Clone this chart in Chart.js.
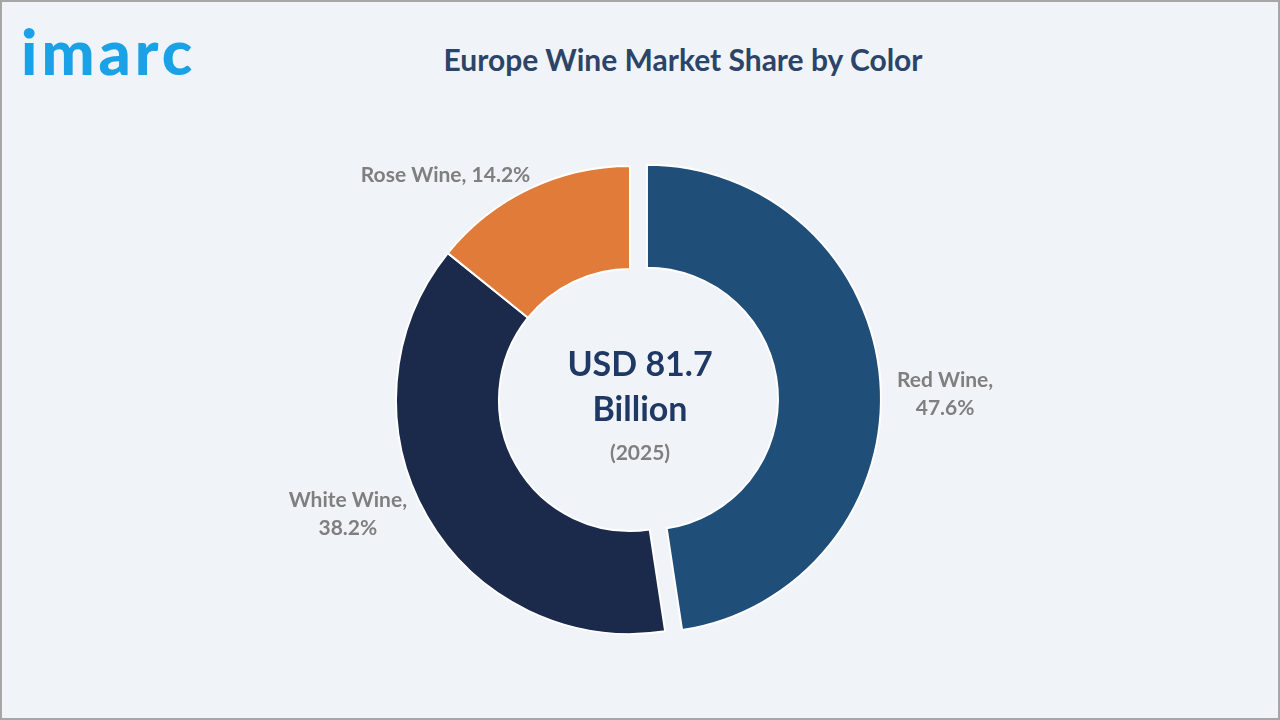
<!DOCTYPE html>
<html>
<head>
<meta charset="utf-8">
<script src="https://cdn.jsdelivr.net/npm/chart.js@4.4.1/dist/chart.umd.min.js"></script>
<style>
  html, body { margin: 0; padding: 0; }
  body { width: 1280px; height: 720px; overflow: hidden; }
  #frame {
    position: relative; width: 1280px; height: 720px; box-sizing: border-box;
    background: #f0f4f9; border: 2px solid #a6a6a6;
  }
  #logo {
    position: absolute; left: 19px; top: 11px;
    font-family: 'Lato', sans-serif; font-weight: 900; font-size: 63px;
    color: #1ba1e6; letter-spacing: 4px;
  }
  #title {
    position: absolute; left: 381px; top: 39px; width: 600px; text-align: center;
    font-family: 'Lato', sans-serif; font-weight: 700; font-size: 30px; color: #2c4468;
  }
  #chartWrap { position: absolute; left: -2px; top: -2px; width: 1280px; height: 720px; }
</style>
</head>
<body>
<div id="frame">
  <div id="logo">imarc</div>
  <div id="title">Europe Wine Market Share by Color</div>
  <div id="chartWrap"><canvas id="chart" width="1280" height="720"></canvas></div>
</div>
<script>
const categories = ['Red Wine', 'White Wine', 'Rose Wine'];
const shares = [47.6, 38.2, 14.2];
const sliceColors = ['#1f4e79', '#1b2a4b', '#e07b39'];
const centerLines = ['USD 81.7', 'Billion', '(2025)'];

// how far each slice is pulled out of the ring, in px
const explode = [17, 0, 0];
// label nudges from the mid-angle anchor (styling only)
const labelNudge = [[-1, 18], [-22, -35], [-55, 46]];
const labelLines = [
  ['Red Wine,', '47.6%'],
  ['White Wine,', '38.2%'],
  ['Rose Wine, 14.2%']
];

// Chart.js' own offset also grows the slice radius, so shift the arc by hand
const explodeSlices = {
  id: 'explodeSlices',
  beforeDatasetsDraw(chart) {
    const meta = chart.getDatasetMeta(0);
    meta.data.forEach((arc, i) => {
      if (!explode[i] || arc._exploded) return;
      const orig = arc.draw;
      arc.draw = function (ctx) {
        const h = (this.startAngle + this.endAngle) / 2;
        ctx.save();
        ctx.translate(Math.cos(h) * explode[i], Math.sin(h) * explode[i]);
        orig.call(this, ctx);
        ctx.restore();
      };
      arc._exploded = true;
    });
  }
};

const outsideLabels = {
  id: 'outsideLabels',
  afterDatasetsDraw(chart) {
    const ctx = chart.ctx;
    const meta = chart.getDatasetMeta(0);
    ctx.save();
    ctx.font = 'bold 21px Lato, sans-serif';
    ctx.fillStyle = '#7f7f7f';
    ctx.textAlign = 'center';
    ctx.textBaseline = 'middle';
    meta.data.forEach((arc, i) => {
      const p = arc.getProps(['x', 'y', 'startAngle', 'endAngle', 'outerRadius'], true);
      const mid = (p.startAngle + p.endAngle) / 2;
      const r = p.outerRadius + 66 + explode[i];
      const x = p.x + Math.cos(mid) * r + labelNudge[i][0];
      const y = p.y + Math.sin(mid) * r + labelNudge[i][1];
      const lines = labelLines[i];
      const lh = 28;
      lines.forEach((t, k) => {
        ctx.fillText(t, x, y + (k - (lines.length - 1) / 2) * lh);
      });
    });

    // center text
    const cx = meta.data[1].x;
    const cy = meta.data[1].y;
    ctx.fillStyle = '#1f3864';
    ctx.font = 'bold 34px Lato, sans-serif';
    ctx.fillText(centerLines[0], cx + 10, cy - 35);
    ctx.fillText(centerLines[1], cx + 10, cy + 10);
    ctx.fillStyle = '#7f7f7f';
    ctx.font = 'bold 21px Lato, sans-serif';
    ctx.fillText(centerLines[2], cx + 10, cy + 53);
    ctx.restore();
  }
};

new Chart(document.getElementById('chart'), {
  type: 'doughnut',
  data: {
    labels: categories,
    datasets: [{
      data: shares,
      backgroundColor: sliceColors,
      borderColor: '#ffffff',
      borderWidth: 2,
      hoverBorderWidth: 2,
      hoverOffset: 0
    }]
  },
  options: {
    responsive: false,
    animation: false,
    radius: 234,
    cutout: '56%',
    layout: { padding: { left: 300, right: 320, top: 150, bottom: 70 } },
    plugins: {
      legend: { display: false },
      tooltip: { enabled: false }
    }
  },
  plugins: [explodeSlices, outsideLabels]
});
</script>
</body>
</html>
